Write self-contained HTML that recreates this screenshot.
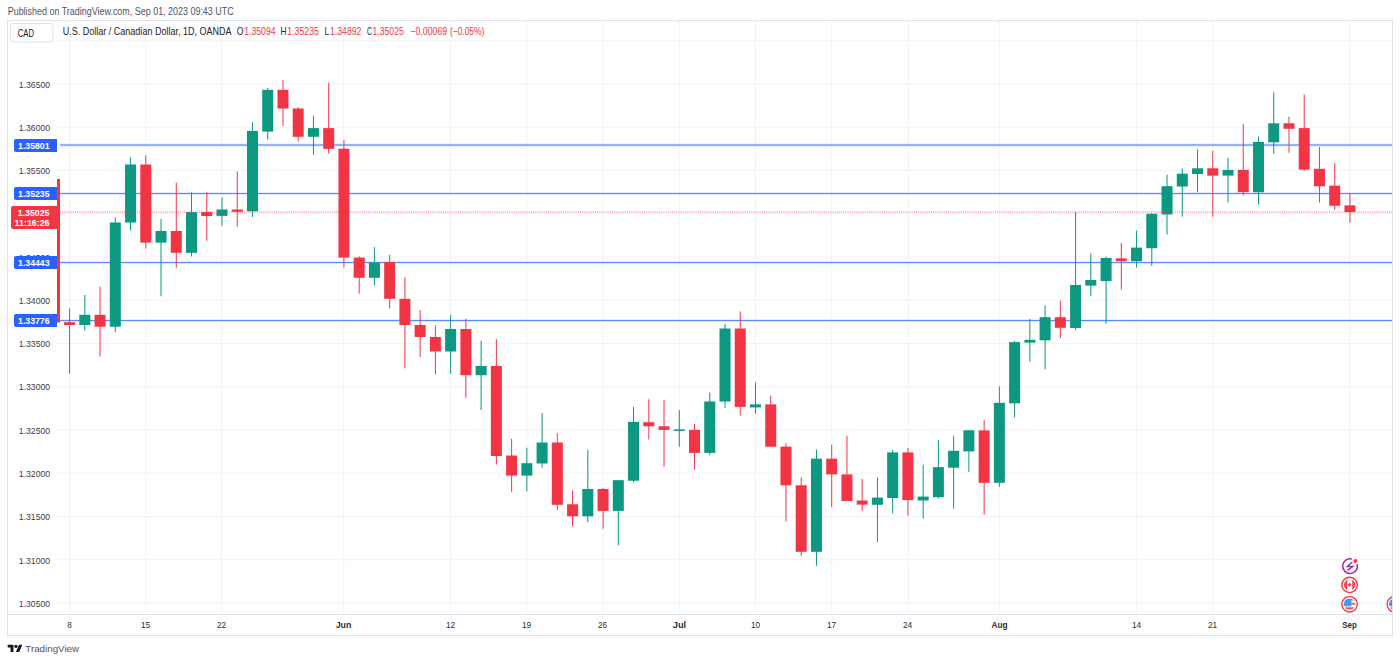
<!DOCTYPE html>
<html><head><meta charset="utf-8"><style>
html,body{margin:0;padding:0;background:#fff;width:1400px;height:662px;overflow:hidden;position:relative;font-family:"Liberation Sans",sans-serif}
</style></head><body>
<svg width="1400" height="662" viewBox="0 0 1400 662" style="position:absolute;left:0;top:0">
<rect x="0" y="0" width="1400" height="662" fill="#ffffff"/>
<defs><clipPath id="pane"><rect x="57" y="21" width="1335" height="593"/></clipPath><filter id="soft" x="-1%" y="-1%" width="102%" height="102%"><feGaussianBlur stdDeviation="0.3"/></filter></defs>
<g filter="url(#soft)">
<rect x="57" y="40.25" width="1335" height="1" fill="#F2F2F4"/>
<rect x="57" y="83.50" width="1335" height="1" fill="#F2F2F4"/>
<rect x="57" y="126.75" width="1335" height="1" fill="#F2F2F4"/>
<rect x="57" y="170.00" width="1335" height="1" fill="#F2F2F4"/>
<rect x="57" y="213.25" width="1335" height="1" fill="#F2F2F4"/>
<rect x="57" y="256.50" width="1335" height="1" fill="#F2F2F4"/>
<rect x="57" y="299.75" width="1335" height="1" fill="#F2F2F4"/>
<rect x="57" y="343.00" width="1335" height="1" fill="#F2F2F4"/>
<rect x="57" y="386.25" width="1335" height="1" fill="#F2F2F4"/>
<rect x="57" y="429.50" width="1335" height="1" fill="#F2F2F4"/>
<rect x="57" y="472.75" width="1335" height="1" fill="#F2F2F4"/>
<rect x="57" y="516.00" width="1335" height="1" fill="#F2F2F4"/>
<rect x="57" y="559.25" width="1335" height="1" fill="#F2F2F4"/>
<rect x="57" y="602.50" width="1335" height="1" fill="#F2F2F4"/>
<rect x="69.50" y="21" width="1" height="593" fill="#F2F2F4"/>
<rect x="145.28" y="21" width="1" height="593" fill="#F2F2F4"/>
<rect x="221.10" y="21" width="1" height="593" fill="#F2F2F4"/>
<rect x="343.20" y="21" width="1" height="593" fill="#F2F2F4"/>
<rect x="449.90" y="21" width="1" height="593" fill="#F2F2F4"/>
<rect x="526.35" y="21" width="1" height="593" fill="#F2F2F4"/>
<rect x="602.56" y="21" width="1" height="593" fill="#F2F2F4"/>
<rect x="678.90" y="21" width="1" height="593" fill="#F2F2F4"/>
<rect x="754.99" y="21" width="1" height="593" fill="#F2F2F4"/>
<rect x="831.20" y="21" width="1" height="593" fill="#F2F2F4"/>
<rect x="907.90" y="21" width="1" height="593" fill="#F2F2F4"/>
<rect x="998.87" y="21" width="1" height="593" fill="#F2F2F4"/>
<rect x="1135.90" y="21" width="1" height="593" fill="#F2F2F4"/>
<rect x="1212.26" y="21" width="1" height="593" fill="#F2F2F4"/>
<rect x="1349.30" y="21" width="1" height="593" fill="#F2F2F4"/>
<g shape-rendering="crispEdges" fill="#E0E3EB">
<rect x="7" y="20" width="1386" height="1"/>
<rect x="7" y="635" width="1386" height="1"/>
<rect x="7" y="20" width="1" height="616"/>
<rect x="1392" y="20" width="1" height="616"/>
<rect x="7" y="614" width="1386" height="1"/>
</g>
<g shape-rendering="crispEdges">
<rect x="60" y="143" width="1332" height="1" fill="#2962FF" opacity="0.08"/>
<rect x="60" y="144" width="1332" height="1" fill="#2962FF" opacity="0.5"/>
<rect x="60" y="145" width="1332" height="1" fill="#2962FF" opacity="0.5"/>
<rect x="60" y="146" width="1332" height="1" fill="#2962FF" opacity="0.08"/>
<rect x="60" y="192" width="1332" height="1" fill="#2962FF" opacity="0.12"/>
<rect x="60" y="193" width="1332" height="1" fill="#2962FF" opacity="0.75"/>
<rect x="60" y="194" width="1332" height="1" fill="#2962FF" opacity="0.15"/>
<rect x="60" y="261" width="1332" height="1" fill="#2962FF" opacity="0.12"/>
<rect x="60" y="262" width="1332" height="1" fill="#2962FF" opacity="0.75"/>
<rect x="60" y="263" width="1332" height="1" fill="#2962FF" opacity="0.15"/>
<rect x="60" y="319" width="1332" height="1" fill="#2962FF" opacity="0.12"/>
<rect x="60" y="320" width="1332" height="1" fill="#2962FF" opacity="0.75"/>
<rect x="60" y="321" width="1332" height="1" fill="#2962FF" opacity="0.15"/>
</g>
<g clip-path="url(#pane)">
<rect x="69.07" y="308.4" width="1" height="65.30" fill="#F23645"/>
<rect x="64.07" y="322.2" width="11" height="2.80" fill="#F23645"/>
<rect x="84.31" y="295.0" width="1" height="35.50" fill="#089981"/>
<rect x="79.31" y="314.8" width="11" height="10.20" fill="#089981"/>
<rect x="99.56" y="286.7" width="1" height="70.00" fill="#F23645"/>
<rect x="94.56" y="314.8" width="11" height="11.90" fill="#F23645"/>
<rect x="114.80" y="217.2" width="1" height="114.70" fill="#089981"/>
<rect x="109.80" y="222.5" width="11" height="104.20" fill="#089981"/>
<rect x="130.04" y="157.3" width="1" height="73.20" fill="#089981"/>
<rect x="125.04" y="164.5" width="11" height="58.00" fill="#089981"/>
<rect x="145.28" y="155.3" width="1" height="93.30" fill="#F23645"/>
<rect x="140.28" y="164.5" width="11" height="78.10" fill="#F23645"/>
<rect x="160.53" y="218.9" width="1" height="77.40" fill="#089981"/>
<rect x="155.53" y="231.0" width="11" height="11.60" fill="#089981"/>
<rect x="175.77" y="182.6" width="1" height="85.10" fill="#F23645"/>
<rect x="170.77" y="231.0" width="11" height="21.80" fill="#F23645"/>
<rect x="191.01" y="192.3" width="1" height="64.10" fill="#089981"/>
<rect x="186.01" y="212.1" width="11" height="40.70" fill="#089981"/>
<rect x="206.25" y="192.3" width="1" height="48.40" fill="#F23645"/>
<rect x="201.25" y="212.1" width="11" height="3.90" fill="#F23645"/>
<rect x="221.50" y="197.2" width="1" height="28.70" fill="#089981"/>
<rect x="216.50" y="209.5" width="11" height="6.40" fill="#089981"/>
<rect x="236.74" y="171.5" width="1" height="55.20" fill="#F23645"/>
<rect x="231.74" y="209.5" width="11" height="2.30" fill="#F23645"/>
<rect x="251.98" y="122.1" width="1" height="94.80" fill="#089981"/>
<rect x="246.98" y="130.9" width="11" height="80.40" fill="#089981"/>
<rect x="267.22" y="88.0" width="1" height="51.40" fill="#089981"/>
<rect x="262.22" y="89.8" width="11" height="41.80" fill="#089981"/>
<rect x="282.47" y="79.8" width="1" height="46.20" fill="#F23645"/>
<rect x="277.47" y="89.8" width="11" height="18.70" fill="#F23645"/>
<rect x="297.71" y="107.2" width="1" height="34.20" fill="#F23645"/>
<rect x="292.71" y="108.5" width="11" height="28.30" fill="#F23645"/>
<rect x="312.95" y="115.7" width="1" height="39.10" fill="#089981"/>
<rect x="307.95" y="128.1" width="11" height="8.70" fill="#089981"/>
<rect x="328.19" y="82.8" width="1" height="70.70" fill="#F23645"/>
<rect x="323.19" y="128.1" width="11" height="20.80" fill="#F23645"/>
<rect x="343.44" y="140.0" width="1" height="127.50" fill="#F23645"/>
<rect x="338.44" y="148.7" width="11" height="108.90" fill="#F23645"/>
<rect x="358.68" y="256.3" width="1" height="37.40" fill="#F23645"/>
<rect x="353.68" y="257.6" width="11" height="20.20" fill="#F23645"/>
<rect x="373.92" y="247.1" width="1" height="38.10" fill="#089981"/>
<rect x="368.92" y="262.6" width="11" height="15.20" fill="#089981"/>
<rect x="389.16" y="254.8" width="1" height="53.70" fill="#F23645"/>
<rect x="384.16" y="262.1" width="11" height="36.70" fill="#F23645"/>
<rect x="404.41" y="277.3" width="1" height="91.20" fill="#F23645"/>
<rect x="399.41" y="298.8" width="11" height="26.20" fill="#F23645"/>
<rect x="419.65" y="310.0" width="1" height="46.90" fill="#F23645"/>
<rect x="414.65" y="325.0" width="11" height="12.00" fill="#F23645"/>
<rect x="434.89" y="325.4" width="1" height="49.10" fill="#F23645"/>
<rect x="429.89" y="337.0" width="11" height="14.50" fill="#F23645"/>
<rect x="450.13" y="314.8" width="1" height="59.00" fill="#089981"/>
<rect x="445.13" y="329.0" width="11" height="22.50" fill="#089981"/>
<rect x="465.38" y="318.9" width="1" height="79.10" fill="#F23645"/>
<rect x="460.38" y="329.0" width="11" height="46.20" fill="#F23645"/>
<rect x="480.62" y="340.7" width="1" height="69.40" fill="#089981"/>
<rect x="475.62" y="366.0" width="11" height="9.20" fill="#089981"/>
<rect x="495.86" y="339.0" width="1" height="125.60" fill="#F23645"/>
<rect x="490.86" y="366.0" width="11" height="90.00" fill="#F23645"/>
<rect x="511.11" y="438.8" width="1" height="53.10" fill="#F23645"/>
<rect x="506.11" y="455.5" width="11" height="20.10" fill="#F23645"/>
<rect x="526.35" y="447.7" width="1" height="43.60" fill="#089981"/>
<rect x="521.35" y="463.2" width="11" height="12.40" fill="#089981"/>
<rect x="541.59" y="413.0" width="1" height="54.80" fill="#089981"/>
<rect x="536.59" y="442.5" width="11" height="21.00" fill="#089981"/>
<rect x="556.83" y="433.1" width="1" height="76.90" fill="#F23645"/>
<rect x="551.83" y="442.5" width="11" height="62.30" fill="#F23645"/>
<rect x="572.08" y="490.5" width="1" height="35.90" fill="#F23645"/>
<rect x="567.08" y="504.3" width="11" height="12.00" fill="#F23645"/>
<rect x="587.32" y="449.7" width="1" height="72.60" fill="#089981"/>
<rect x="582.32" y="489.0" width="11" height="27.30" fill="#089981"/>
<rect x="602.56" y="487.9" width="1" height="40.80" fill="#F23645"/>
<rect x="597.56" y="489.0" width="11" height="21.90" fill="#F23645"/>
<rect x="617.80" y="480.0" width="1" height="65.20" fill="#089981"/>
<rect x="612.80" y="480.2" width="11" height="30.70" fill="#089981"/>
<rect x="633.05" y="406.9" width="1" height="75.50" fill="#089981"/>
<rect x="628.05" y="421.9" width="11" height="58.80" fill="#089981"/>
<rect x="648.29" y="399.2" width="1" height="40.40" fill="#F23645"/>
<rect x="643.29" y="422.2" width="11" height="4.10" fill="#F23645"/>
<rect x="663.53" y="400.2" width="1" height="66.70" fill="#F23645"/>
<rect x="658.53" y="426.3" width="11" height="3.60" fill="#F23645"/>
<rect x="678.77" y="410.1" width="1" height="36.70" fill="#089981"/>
<rect x="673.77" y="429.4" width="11" height="1.50" fill="#089981"/>
<rect x="694.02" y="423.8" width="1" height="46.00" fill="#F23645"/>
<rect x="689.02" y="429.9" width="11" height="23.00" fill="#F23645"/>
<rect x="709.26" y="392.5" width="1" height="62.80" fill="#089981"/>
<rect x="704.26" y="401.5" width="11" height="51.40" fill="#089981"/>
<rect x="724.50" y="323.7" width="1" height="84.40" fill="#089981"/>
<rect x="719.50" y="328.5" width="11" height="73.00" fill="#089981"/>
<rect x="739.74" y="311.4" width="1" height="104.20" fill="#F23645"/>
<rect x="734.74" y="328.5" width="11" height="78.40" fill="#F23645"/>
<rect x="754.99" y="382.7" width="1" height="30.90" fill="#089981"/>
<rect x="749.99" y="404.4" width="11" height="3.00" fill="#089981"/>
<rect x="770.23" y="395.5" width="1" height="51.50" fill="#F23645"/>
<rect x="765.23" y="404.4" width="11" height="42.30" fill="#F23645"/>
<rect x="785.47" y="443.5" width="1" height="78.00" fill="#F23645"/>
<rect x="780.47" y="446.6" width="11" height="38.70" fill="#F23645"/>
<rect x="800.71" y="477.5" width="1" height="78.40" fill="#F23645"/>
<rect x="795.71" y="485.3" width="11" height="66.50" fill="#F23645"/>
<rect x="815.96" y="449.5" width="1" height="116.30" fill="#089981"/>
<rect x="810.96" y="458.7" width="11" height="93.10" fill="#089981"/>
<rect x="831.20" y="444.7" width="1" height="62.30" fill="#F23645"/>
<rect x="826.20" y="458.7" width="11" height="15.70" fill="#F23645"/>
<rect x="846.44" y="435.7" width="1" height="65.30" fill="#F23645"/>
<rect x="841.44" y="474.4" width="11" height="26.60" fill="#F23645"/>
<rect x="861.69" y="478.8" width="1" height="32.40" fill="#F23645"/>
<rect x="856.69" y="500.5" width="11" height="4.10" fill="#F23645"/>
<rect x="876.93" y="477.5" width="1" height="64.60" fill="#089981"/>
<rect x="871.93" y="497.6" width="11" height="7.20" fill="#089981"/>
<rect x="892.17" y="450.0" width="1" height="63.30" fill="#089981"/>
<rect x="887.17" y="452.4" width="11" height="45.60" fill="#089981"/>
<rect x="907.41" y="448.1" width="1" height="67.50" fill="#F23645"/>
<rect x="902.41" y="452.4" width="11" height="47.70" fill="#F23645"/>
<rect x="922.66" y="464.8" width="1" height="53.80" fill="#089981"/>
<rect x="917.66" y="496.6" width="11" height="3.90" fill="#089981"/>
<rect x="937.90" y="440.0" width="1" height="58.50" fill="#089981"/>
<rect x="932.90" y="467.1" width="11" height="30.10" fill="#089981"/>
<rect x="953.14" y="435.7" width="1" height="73.00" fill="#089981"/>
<rect x="948.14" y="450.8" width="11" height="16.90" fill="#089981"/>
<rect x="968.38" y="430.0" width="1" height="42.00" fill="#089981"/>
<rect x="963.38" y="430.3" width="11" height="21.10" fill="#089981"/>
<rect x="983.63" y="419.8" width="1" height="95.00" fill="#F23645"/>
<rect x="978.63" y="430.4" width="11" height="52.40" fill="#F23645"/>
<rect x="998.87" y="386.3" width="1" height="100.50" fill="#089981"/>
<rect x="993.87" y="402.8" width="11" height="80.00" fill="#089981"/>
<rect x="1014.11" y="341.0" width="1" height="76.30" fill="#089981"/>
<rect x="1009.11" y="342.1" width="11" height="61.20" fill="#089981"/>
<rect x="1029.35" y="319.0" width="1" height="42.80" fill="#089981"/>
<rect x="1024.35" y="339.8" width="11" height="2.80" fill="#089981"/>
<rect x="1044.60" y="305.4" width="1" height="63.90" fill="#089981"/>
<rect x="1039.60" y="317.2" width="11" height="23.10" fill="#089981"/>
<rect x="1059.84" y="300.6" width="1" height="37.40" fill="#F23645"/>
<rect x="1054.84" y="317.2" width="11" height="10.60" fill="#F23645"/>
<rect x="1075.08" y="212.0" width="1" height="117.80" fill="#089981"/>
<rect x="1070.08" y="285.0" width="11" height="43.00" fill="#089981"/>
<rect x="1090.32" y="253.5" width="1" height="42.80" fill="#089981"/>
<rect x="1085.32" y="280.0" width="11" height="5.60" fill="#089981"/>
<rect x="1105.57" y="256.6" width="1" height="67.10" fill="#089981"/>
<rect x="1100.57" y="258.0" width="11" height="23.10" fill="#089981"/>
<rect x="1120.81" y="243.0" width="1" height="46.50" fill="#F23645"/>
<rect x="1115.81" y="258.4" width="11" height="2.80" fill="#F23645"/>
<rect x="1136.05" y="230.6" width="1" height="36.90" fill="#089981"/>
<rect x="1131.05" y="247.6" width="11" height="13.60" fill="#089981"/>
<rect x="1151.29" y="213.1" width="1" height="52.80" fill="#089981"/>
<rect x="1146.29" y="213.8" width="11" height="34.40" fill="#089981"/>
<rect x="1166.54" y="174.7" width="1" height="59.90" fill="#089981"/>
<rect x="1161.54" y="186.2" width="11" height="28.30" fill="#089981"/>
<rect x="1181.78" y="168.3" width="1" height="48.50" fill="#089981"/>
<rect x="1176.78" y="173.7" width="11" height="12.80" fill="#089981"/>
<rect x="1197.02" y="149.2" width="1" height="43.10" fill="#089981"/>
<rect x="1192.02" y="168.3" width="11" height="5.70" fill="#089981"/>
<rect x="1212.26" y="150.9" width="1" height="65.90" fill="#F23645"/>
<rect x="1207.26" y="168.3" width="11" height="7.30" fill="#F23645"/>
<rect x="1227.51" y="157.7" width="1" height="44.80" fill="#089981"/>
<rect x="1222.51" y="169.9" width="11" height="5.70" fill="#089981"/>
<rect x="1242.75" y="124.0" width="1" height="71.50" fill="#F23645"/>
<rect x="1237.75" y="169.9" width="11" height="22.30" fill="#F23645"/>
<rect x="1257.99" y="136.4" width="1" height="68.30" fill="#089981"/>
<rect x="1252.99" y="141.9" width="11" height="50.30" fill="#089981"/>
<rect x="1273.24" y="92.2" width="1" height="61.70" fill="#089981"/>
<rect x="1268.24" y="123.3" width="11" height="19.00" fill="#089981"/>
<rect x="1288.48" y="116.7" width="1" height="36.10" fill="#F23645"/>
<rect x="1283.48" y="123.3" width="11" height="5.50" fill="#F23645"/>
<rect x="1303.72" y="94.4" width="1" height="76.40" fill="#F23645"/>
<rect x="1298.72" y="128.1" width="11" height="41.60" fill="#F23645"/>
<rect x="1318.96" y="147.0" width="1" height="55.50" fill="#F23645"/>
<rect x="1313.96" y="168.8" width="11" height="17.50" fill="#F23645"/>
<rect x="1334.21" y="163.4" width="1" height="46.40" fill="#F23645"/>
<rect x="1329.21" y="185.7" width="11" height="20.10" fill="#F23645"/>
<rect x="1349.45" y="193.3" width="1" height="29.60" fill="#F23645"/>
<rect x="1344.45" y="205.4" width="11" height="6.60" fill="#F23645"/>
</g>
<line x1="60" y1="212.1" x2="1392" y2="212.1" stroke="#F23645" stroke-width="1" stroke-dasharray="1 1.14" opacity="0.75"/>
<rect x="57" y="179" width="3" height="143.6" fill="#F23645"/>
</g>
<text x="7.7" y="14.6" font-size="10.4" fill="#50535E" font-weight="normal" text-anchor="start" textLength="226" lengthAdjust="spacingAndGlyphs" font-family="Liberation Sans, sans-serif">Published on TradingView.com, Sep 01, 2023 09:43 UTC</text>
<rect x="10.5" y="23.5" width="42.5" height="18.5" rx="3" ry="3" fill="#fff" stroke="#E0E3EB" stroke-width="1"/>
<text x="17.8" y="36.7" font-size="10.4" fill="#131722" font-weight="normal" text-anchor="start" textLength="16.3" lengthAdjust="spacingAndGlyphs" font-family="Liberation Sans, sans-serif">CAD</text>
<text x="62.7" y="35.2" font-size="10.3" fill="#1E222D" font-weight="normal" text-anchor="start" textLength="168.9" lengthAdjust="spacingAndGlyphs" font-family="Liberation Sans, sans-serif">U.S. Dollar / Canadian Dollar, 1D, OANDA</text>
<text x="236.8" y="35.2" font-size="10.3" fill="#1E222D" font-weight="normal" text-anchor="start" textLength="6.7" lengthAdjust="spacingAndGlyphs" font-family="Liberation Sans, sans-serif">O</text>
<text x="244.3" y="35.2" font-size="10.3" fill="#F23645" font-weight="normal" text-anchor="start" textLength="31.2" lengthAdjust="spacingAndGlyphs" font-family="Liberation Sans, sans-serif">1.35094</text>
<text x="280.5" y="35.2" font-size="10.3" fill="#1E222D" font-weight="normal" text-anchor="start" textLength="6.0" lengthAdjust="spacingAndGlyphs" font-family="Liberation Sans, sans-serif">H</text>
<text x="287.3" y="35.2" font-size="10.3" fill="#F23645" font-weight="normal" text-anchor="start" textLength="31.6" lengthAdjust="spacingAndGlyphs" font-family="Liberation Sans, sans-serif">1.35235</text>
<text x="324.5" y="35.2" font-size="10.3" fill="#1E222D" font-weight="normal" text-anchor="start" textLength="4.8" lengthAdjust="spacingAndGlyphs" font-family="Liberation Sans, sans-serif">L</text>
<text x="330.1" y="35.2" font-size="10.3" fill="#F23645" font-weight="normal" text-anchor="start" textLength="31.2" lengthAdjust="spacingAndGlyphs" font-family="Liberation Sans, sans-serif">1.34892</text>
<text x="366.9" y="35.2" font-size="10.3" fill="#1E222D" font-weight="normal" text-anchor="start" textLength="4.8" lengthAdjust="spacingAndGlyphs" font-family="Liberation Sans, sans-serif">C</text>
<text x="372.5" y="35.2" font-size="10.3" fill="#F23645" font-weight="normal" text-anchor="start" textLength="31.3" lengthAdjust="spacingAndGlyphs" font-family="Liberation Sans, sans-serif">1.35025</text>
<text x="410.3" y="35.2" font-size="10.3" fill="#F23645" font-weight="normal" text-anchor="start" textLength="36.9" lengthAdjust="spacingAndGlyphs" font-family="Liberation Sans, sans-serif">−0.00069</text>
<text x="449.9" y="35.2" font-size="10.3" fill="#F23645" font-weight="normal" text-anchor="start" textLength="34.5" lengthAdjust="spacingAndGlyphs" font-family="Liberation Sans, sans-serif">(−0.05%)</text>
<text x="18.8" y="87.7" font-size="9.8" fill="#3A3D48" font-weight="normal" text-anchor="start" textLength="31.4" lengthAdjust="spacingAndGlyphs" font-family="Liberation Sans, sans-serif">1.36500</text>
<text x="18.8" y="130.9" font-size="9.8" fill="#3A3D48" font-weight="normal" text-anchor="start" textLength="31.4" lengthAdjust="spacingAndGlyphs" font-family="Liberation Sans, sans-serif">1.36000</text>
<text x="18.8" y="174.2" font-size="9.8" fill="#3A3D48" font-weight="normal" text-anchor="start" textLength="31.4" lengthAdjust="spacingAndGlyphs" font-family="Liberation Sans, sans-serif">1.35500</text>
<text x="18.8" y="217.4" font-size="9.8" fill="#3A3D48" font-weight="normal" text-anchor="start" textLength="31.4" lengthAdjust="spacingAndGlyphs" font-family="Liberation Sans, sans-serif">1.35000</text>
<text x="18.8" y="260.7" font-size="9.8" fill="#3A3D48" font-weight="normal" text-anchor="start" textLength="31.4" lengthAdjust="spacingAndGlyphs" font-family="Liberation Sans, sans-serif">1.34500</text>
<text x="18.8" y="303.9" font-size="9.8" fill="#3A3D48" font-weight="normal" text-anchor="start" textLength="31.4" lengthAdjust="spacingAndGlyphs" font-family="Liberation Sans, sans-serif">1.34000</text>
<text x="18.8" y="347.2" font-size="9.8" fill="#3A3D48" font-weight="normal" text-anchor="start" textLength="31.4" lengthAdjust="spacingAndGlyphs" font-family="Liberation Sans, sans-serif">1.33500</text>
<text x="18.8" y="390.4" font-size="9.8" fill="#3A3D48" font-weight="normal" text-anchor="start" textLength="31.4" lengthAdjust="spacingAndGlyphs" font-family="Liberation Sans, sans-serif">1.33000</text>
<text x="18.8" y="433.7" font-size="9.8" fill="#3A3D48" font-weight="normal" text-anchor="start" textLength="31.4" lengthAdjust="spacingAndGlyphs" font-family="Liberation Sans, sans-serif">1.32500</text>
<text x="18.8" y="476.9" font-size="9.8" fill="#3A3D48" font-weight="normal" text-anchor="start" textLength="31.4" lengthAdjust="spacingAndGlyphs" font-family="Liberation Sans, sans-serif">1.32000</text>
<text x="18.8" y="520.2" font-size="9.8" fill="#3A3D48" font-weight="normal" text-anchor="start" textLength="31.4" lengthAdjust="spacingAndGlyphs" font-family="Liberation Sans, sans-serif">1.31500</text>
<text x="18.8" y="563.5" font-size="9.8" fill="#3A3D48" font-weight="normal" text-anchor="start" textLength="31.4" lengthAdjust="spacingAndGlyphs" font-family="Liberation Sans, sans-serif">1.31000</text>
<text x="18.8" y="606.7" font-size="9.8" fill="#3A3D48" font-weight="normal" text-anchor="start" textLength="31.4" lengthAdjust="spacingAndGlyphs" font-family="Liberation Sans, sans-serif">1.30500</text>
<path d="M16,139 H57 V152 H16 Q14,152 14,150 V141 Q14,139 16,139 Z" fill="#2962FF"/>
<text x="18.1" y="148.6" font-size="9.3" fill="#ffffff" font-weight="bold" text-anchor="start" textLength="31.4" lengthAdjust="spacingAndGlyphs" font-family="Liberation Sans, sans-serif">1.35801</text>
<path d="M16,187 H57 V200 H16 Q14,200 14,198 V189 Q14,187 16,187 Z" fill="#2962FF"/>
<text x="18.1" y="196.6" font-size="9.3" fill="#ffffff" font-weight="bold" text-anchor="start" textLength="31.4" lengthAdjust="spacingAndGlyphs" font-family="Liberation Sans, sans-serif">1.35235</text>
<path d="M16,256 H57 V269 H16 Q14,269 14,267 V258 Q14,256 16,256 Z" fill="#2962FF"/>
<text x="18.1" y="265.6" font-size="9.3" fill="#ffffff" font-weight="bold" text-anchor="start" textLength="31.4" lengthAdjust="spacingAndGlyphs" font-family="Liberation Sans, sans-serif">1.34443</text>
<path d="M16,314 H57 V327 H16 Q14,327 14,325 V316 Q14,314 16,314 Z" fill="#2962FF"/>
<text x="18.1" y="323.6" font-size="9.3" fill="#ffffff" font-weight="bold" text-anchor="start" textLength="31.4" lengthAdjust="spacingAndGlyphs" font-family="Liberation Sans, sans-serif">1.33776</text>
<path d="M13,206 H60 V229 H13 Q11,229 11,227 V208 Q11,206 13,206 Z" fill="#F23645"/>
<text x="49.5" y="215.6" font-size="9.3" fill="#ffffff" font-weight="bold" text-anchor="end" textLength="31.7" lengthAdjust="spacingAndGlyphs" font-family="Liberation Sans, sans-serif">1.35025</text>
<text x="49.5" y="226.0" font-size="9.3" fill="#ffffff" font-weight="bold" text-anchor="end" textLength="34.9" lengthAdjust="spacingAndGlyphs" font-family="Liberation Sans, sans-serif">11:16:26</text>
<text x="69.5" y="627.8" font-size="9.6" fill="#2A2E39" font-weight="normal" text-anchor="middle" textLength="4.6" lengthAdjust="spacingAndGlyphs" font-family="Liberation Sans, sans-serif">8</text>
<text x="145.5" y="627.8" font-size="9.6" fill="#2A2E39" font-weight="normal" text-anchor="middle" textLength="9.2" lengthAdjust="spacingAndGlyphs" font-family="Liberation Sans, sans-serif">15</text>
<text x="221.5" y="627.8" font-size="9.6" fill="#2A2E39" font-weight="normal" text-anchor="middle" textLength="9.2" lengthAdjust="spacingAndGlyphs" font-family="Liberation Sans, sans-serif">22</text>
<text x="343.5" y="627.8" font-size="9.6" fill="#2A2E39" font-weight="bold" text-anchor="middle" textLength="15.7" lengthAdjust="spacingAndGlyphs" font-family="Liberation Sans, sans-serif">Jun</text>
<text x="450.5" y="627.8" font-size="9.6" fill="#2A2E39" font-weight="normal" text-anchor="middle" textLength="9.2" lengthAdjust="spacingAndGlyphs" font-family="Liberation Sans, sans-serif">12</text>
<text x="526.5" y="627.8" font-size="9.6" fill="#2A2E39" font-weight="normal" text-anchor="middle" textLength="9.2" lengthAdjust="spacingAndGlyphs" font-family="Liberation Sans, sans-serif">19</text>
<text x="602.5" y="627.8" font-size="9.6" fill="#2A2E39" font-weight="normal" text-anchor="middle" textLength="9.2" lengthAdjust="spacingAndGlyphs" font-family="Liberation Sans, sans-serif">26</text>
<text x="679.5" y="627.8" font-size="9.6" fill="#2A2E39" font-weight="bold" text-anchor="middle" textLength="13.3" lengthAdjust="spacingAndGlyphs" font-family="Liberation Sans, sans-serif">Jul</text>
<text x="755.5" y="627.8" font-size="9.6" fill="#2A2E39" font-weight="normal" text-anchor="middle" textLength="9.2" lengthAdjust="spacingAndGlyphs" font-family="Liberation Sans, sans-serif">10</text>
<text x="831.5" y="627.8" font-size="9.6" fill="#2A2E39" font-weight="normal" text-anchor="middle" textLength="9.2" lengthAdjust="spacingAndGlyphs" font-family="Liberation Sans, sans-serif">17</text>
<text x="907.5" y="627.8" font-size="9.6" fill="#2A2E39" font-weight="normal" text-anchor="middle" textLength="9.2" lengthAdjust="spacingAndGlyphs" font-family="Liberation Sans, sans-serif">24</text>
<text x="999.5" y="627.8" font-size="9.6" fill="#2A2E39" font-weight="bold" text-anchor="middle" textLength="16.1" lengthAdjust="spacingAndGlyphs" font-family="Liberation Sans, sans-serif">Aug</text>
<text x="1136.5" y="627.8" font-size="9.6" fill="#2A2E39" font-weight="normal" text-anchor="middle" textLength="9.2" lengthAdjust="spacingAndGlyphs" font-family="Liberation Sans, sans-serif">14</text>
<text x="1212.5" y="627.8" font-size="9.6" fill="#2A2E39" font-weight="normal" text-anchor="middle" textLength="9.2" lengthAdjust="spacingAndGlyphs" font-family="Liberation Sans, sans-serif">21</text>
<text x="1349.5" y="627.8" font-size="9.6" fill="#2A2E39" font-weight="bold" text-anchor="middle" textLength="14.6" lengthAdjust="spacingAndGlyphs" font-family="Liberation Sans, sans-serif">Sep</text>
<g transform="translate(7.7,643) scale(0.411)" fill="#131722"><path d="M14 22H7V11H0V4h14v18zM28 22h-8l7.5-18h8L28 22z"/><circle cx="20" cy="8" r="4"/></g>
<text x="25.3" y="652" font-size="9.8" fill="#50535E" font-weight="normal" text-anchor="start" textLength="53.8" lengthAdjust="spacingAndGlyphs" font-family="Liberation Sans, sans-serif">TradingView</text>
<g filter="url(#soft)">
<g clip-path="url(#pane)">
<g transform="translate(1350.06,566.1)">
<circle r="8" fill="#fff"/>
<path d="M 7.15,-1.92 A 7.4 7.4 0 1 1 1.79,-7.18" fill="none" stroke="#9C27B0" stroke-width="1.5"/>
<path d="M1.6,-3.6 L-2.8,0.36 L2.8,0.36 L-2.2,4.0" fill="none" stroke="#9C27B0" stroke-width="1.4" stroke-linejoin="miter" stroke-linecap="round"/>
<circle cx="5.35" cy="-5.1" r="2.0" fill="#F23645"/>
</g>
<g transform="translate(1349.6,584.9)">
<circle r="7.7" fill="#fff" stroke="#F23645" stroke-width="1.4"/>
<clipPath id="cca"><circle r="5.7"/></clipPath>
<g clip-path="url(#cca)"><rect x="-6" y="-6" width="12" height="12" fill="#fff"/><rect x="-6" y="-6" width="3.6" height="12" fill="#F23645" opacity="0.9"/><rect x="2.6" y="-6" width="3.6" height="12" fill="#F23645" opacity="0.9"/></g>
<path d="M0,-2.4 L0.9,-0.9 L2.0,-1.3 L1.5,0.9 L0.35,0.7 L0.35,2.0 L-0.35,2.0 L-0.35,0.7 L-1.5,0.9 L-2.0,-1.3 L-0.9,-0.9 Z" fill="#F23645"/>
</g>
<g transform="translate(1349.6,604.3)">
<circle r="7.7" fill="#fff" stroke="#F23645" stroke-width="1.4"/>
<clipPath id="cus1"><circle r="5.7"/></clipPath>
<g clip-path="url(#cus1)"><rect x="-6" y="-6" width="12" height="12" fill="#fff"/><rect x="-6" y="-5.6" width="12" height="1.8" fill="#F23645" opacity="0.85"/><rect x="-6" y="-1.5" width="12" height="1.8" fill="#F23645" opacity="0.85"/><rect x="-6" y="3" width="12" height="2.3" fill="#F23645" opacity="0.85"/><rect x="-6" y="-6" width="7.8" height="8" fill="#3D8BE8"/><circle cx="-4.0" cy="-4.2" r="0.45" fill="#fff" opacity="0.6"/><circle cx="-4.0" cy="-2.4" r="0.45" fill="#fff" opacity="0.6"/><circle cx="-4.0" cy="-0.6" r="0.45" fill="#fff" opacity="0.6"/><circle cx="-4.0" cy="1.2" r="0.45" fill="#fff" opacity="0.6"/><circle cx="-2.2" cy="-4.2" r="0.45" fill="#fff" opacity="0.6"/><circle cx="-2.2" cy="-2.4" r="0.45" fill="#fff" opacity="0.6"/><circle cx="-2.2" cy="-0.6" r="0.45" fill="#fff" opacity="0.6"/><circle cx="-2.2" cy="1.2" r="0.45" fill="#fff" opacity="0.6"/><circle cx="-0.4" cy="-4.2" r="0.45" fill="#fff" opacity="0.6"/><circle cx="-0.4" cy="-2.4" r="0.45" fill="#fff" opacity="0.6"/><circle cx="-0.4" cy="-0.6" r="0.45" fill="#fff" opacity="0.6"/><circle cx="-0.4" cy="1.2" r="0.45" fill="#fff" opacity="0.6"/><circle cx="1.4" cy="-4.2" r="0.45" fill="#fff" opacity="0.6"/><circle cx="1.4" cy="-2.4" r="0.45" fill="#fff" opacity="0.6"/><circle cx="1.4" cy="-0.6" r="0.45" fill="#fff" opacity="0.6"/><circle cx="1.4" cy="1.2" r="0.45" fill="#fff" opacity="0.6"/></g>
</g>
<g transform="translate(1394.8,604.3)">
<circle r="7.7" fill="#fff" stroke="#F23645" stroke-width="1.4"/>
<clipPath id="cus2"><circle r="5.7"/></clipPath>
<g clip-path="url(#cus2)"><rect x="-6" y="-6" width="12" height="12" fill="#fff"/><rect x="-6" y="-5.6" width="12" height="1.8" fill="#F23645" opacity="0.85"/><rect x="-6" y="-1.5" width="12" height="1.8" fill="#F23645" opacity="0.85"/><rect x="-6" y="3" width="12" height="2.3" fill="#F23645" opacity="0.85"/><rect x="-6" y="-6" width="7.8" height="8" fill="#3D8BE8"/><circle cx="-4.0" cy="-4.2" r="0.45" fill="#fff" opacity="0.6"/><circle cx="-4.0" cy="-2.4" r="0.45" fill="#fff" opacity="0.6"/><circle cx="-4.0" cy="-0.6" r="0.45" fill="#fff" opacity="0.6"/><circle cx="-4.0" cy="1.2" r="0.45" fill="#fff" opacity="0.6"/><circle cx="-2.2" cy="-4.2" r="0.45" fill="#fff" opacity="0.6"/><circle cx="-2.2" cy="-2.4" r="0.45" fill="#fff" opacity="0.6"/><circle cx="-2.2" cy="-0.6" r="0.45" fill="#fff" opacity="0.6"/><circle cx="-2.2" cy="1.2" r="0.45" fill="#fff" opacity="0.6"/><circle cx="-0.4" cy="-4.2" r="0.45" fill="#fff" opacity="0.6"/><circle cx="-0.4" cy="-2.4" r="0.45" fill="#fff" opacity="0.6"/><circle cx="-0.4" cy="-0.6" r="0.45" fill="#fff" opacity="0.6"/><circle cx="-0.4" cy="1.2" r="0.45" fill="#fff" opacity="0.6"/><circle cx="1.4" cy="-4.2" r="0.45" fill="#fff" opacity="0.6"/><circle cx="1.4" cy="-2.4" r="0.45" fill="#fff" opacity="0.6"/><circle cx="1.4" cy="-0.6" r="0.45" fill="#fff" opacity="0.6"/><circle cx="1.4" cy="1.2" r="0.45" fill="#fff" opacity="0.6"/></g>
</g>
</g>
</g>
</svg>
</body></html>
